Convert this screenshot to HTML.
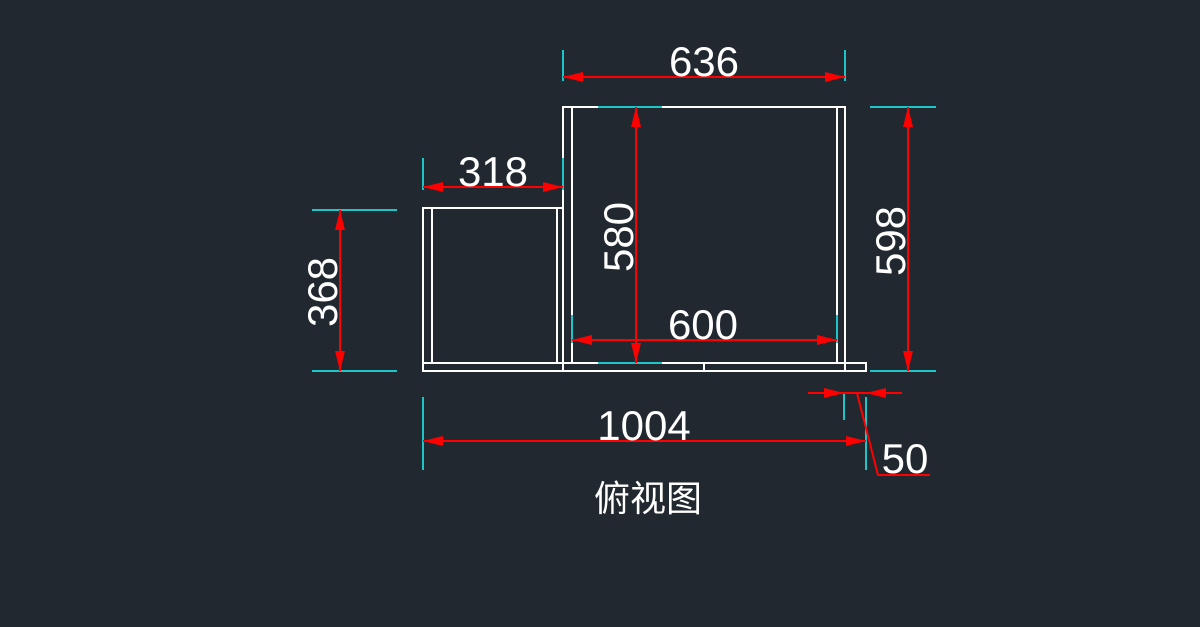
<!DOCTYPE html>
<html><head><meta charset="utf-8"><style>
html,body{margin:0;padding:0;background:#212830;}
svg{display:block}
text{font-family:"Liberation Sans","Noto Sans CJK SC",sans-serif;fill:#fff}
</style></head><body>
<svg width="1200" height="627" viewBox="0 0 1200 627" xmlns="http://www.w3.org/2000/svg">
<rect width="1200" height="627" fill="#212830"/>
<defs>
<marker id="a" viewBox="0 0 20 10" refX="20" refY="5" markerWidth="20" markerHeight="10" markerUnits="userSpaceOnUse" orient="auto-start-reverse"><path d="M0,0L20,5L0,10z" fill="#f00"/></marker>
</defs>
<g fill="none" stroke="#fff" stroke-width="2">
<rect x="563" y="107" width="282" height="264"/>
<line x1="572" y1="107" x2="572" y2="363"/>
<line x1="837" y1="107" x2="837" y2="363"/>
<rect x="423" y="208" width="140" height="163"/>
<line x1="432" y1="208" x2="432" y2="363"/>
<line x1="557" y1="208" x2="557" y2="363"/>
<line x1="423" y1="363" x2="866" y2="363"/>
<polyline points="845,363 866,363 866,371 845,371"/>
<line x1="704" y1="363" x2="704" y2="371"/>
</g>
<g stroke="#1fc4c8" stroke-width="2">
<line x1="563" y1="50" x2="563" y2="81"/><line x1="845" y1="50" x2="845" y2="81"/>
<line x1="423" y1="158" x2="423" y2="190"/><line x1="563" y1="158" x2="563" y2="190"/>
<line x1="598" y1="107" x2="662" y2="107"/><line x1="598" y1="363" x2="662" y2="363"/>
<line x1="572" y1="315" x2="572" y2="343"/><line x1="837" y1="315" x2="837" y2="343"/>
<line x1="870" y1="107" x2="936" y2="107"/><line x1="870" y1="371" x2="936" y2="371"/>
<line x1="312" y1="210" x2="397" y2="210"/><line x1="312" y1="371" x2="397" y2="371"/>
<line x1="423" y1="397" x2="423" y2="470"/><line x1="866" y1="397" x2="866" y2="470"/>
<line x1="844" y1="393" x2="844" y2="420"/>
</g>
<g stroke="#f00" stroke-width="2" fill="none">
<line x1="563" y1="77" x2="845" y2="77" marker-start="url(#a)" marker-end="url(#a)"/>
<line x1="423" y1="187" x2="563" y2="187" marker-start="url(#a)" marker-end="url(#a)"/>
<line x1="636" y1="107" x2="636" y2="363" marker-start="url(#a)" marker-end="url(#a)"/>
<line x1="572" y1="340" x2="837" y2="340" marker-start="url(#a)" marker-end="url(#a)"/>
<line x1="908" y1="107" x2="908" y2="371" marker-start="url(#a)" marker-end="url(#a)"/>
<line x1="340" y1="210" x2="340" y2="371" marker-start="url(#a)" marker-end="url(#a)"/>
<line x1="423" y1="441" x2="866" y2="441" marker-start="url(#a)" marker-end="url(#a)"/>
<line x1="808" y1="393" x2="844" y2="393" marker-end="url(#a)"/>
<line x1="902" y1="393" x2="866" y2="393" marker-end="url(#a)"/>
<line x1="844" y1="393" x2="866" y2="393"/>
<polyline points="857,393 878,475 930,475"/>
</g>
<g font-size="42" text-anchor="middle">
<text x="704" y="76">636</text>
<text x="493" y="186">318</text>
<text x="703" y="339">600</text>
<text x="644" y="440">1004</text>
<text x="905" y="473">50</text>
<text transform="translate(633,237) rotate(-90)">580</text>
<text transform="translate(905,241) rotate(-90)">598</text>
<text transform="translate(337,292) rotate(-90)">368</text>
</g>
<text x="648" y="511" font-size="36" text-anchor="middle">俯视图</text>
</svg>
</body></html>
